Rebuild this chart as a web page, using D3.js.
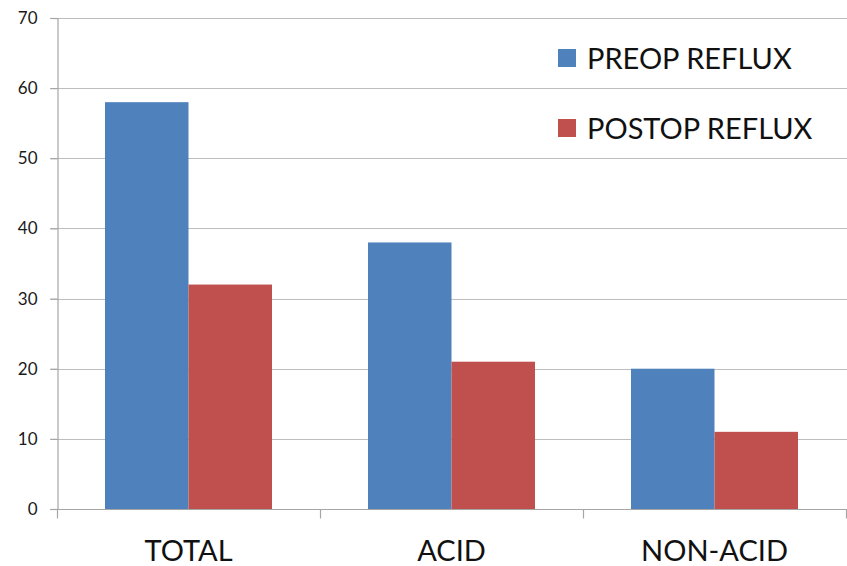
<!DOCTYPE html>
<html><head><meta charset="utf-8">
<script src="https://cdn.jsdelivr.net/npm/d3@7"></script>
<style>body{margin:0;background:#fff}svg{display:block}</style>
</head><body>
<svg id="c" width="847" height="566"></svg>
<script>
const categories = ["TOTAL", "ACID", "NON-ACID"];
const seriesNames = ["PREOP REFLUX", "POSTOP REFLUX"];
const preop = [58, 38, 20];
const postop = [32, 21, 11];
const yTicks = [0, 10, 20, 30, 40, 50, 60, 70];
const colors = ["#4F81BD", "#C0504D"];

const svg = d3.select("#c");
const m = {left: 57, right: 0, top: 18, bottom: 57};
const W = 847, H = 566;
const x0 = d3.scaleBand().domain(categories).range([m.left, W - 1]).paddingInner(0).paddingOuter(0);
const x1 = d3.scaleBand().domain(seriesNames).range([0, x0.bandwidth()]).paddingOuter(0.575).paddingInner(0);
const y = d3.scaleLinear().domain([0, 70]).range([H - m.bottom, m.top]);
const font = "Lato, 'Liberation Sans', sans-serif";

// gridlines
svg.append("g").selectAll("line").data(yTicks.slice(1)).join("line")
  .attr("x1", m.left - 7).attr("x2", W).attr("y1", d => Math.round(y(d)) + 0.5).attr("y2", d => Math.round(y(d)) + 0.5)
  .attr("stroke", "#bdbdbd").attr("stroke-width", 1.2);

// bars
const data = categories.map((c, i) => ({c, vals: [preop[i], postop[i]]}));
const g = svg.append("g");
data.forEach(d => {
  d.vals.forEach((v, j) => {
    g.append("rect")
      .attr("x", x0(d.c) + x1(seriesNames[j]))
      .attr("width", x1.bandwidth())
      .attr("y", y(v))
      .attr("height", y(0) - y(v))
      .attr("fill", colors[j]);
  });
});

// y axis
const yAxis = d3.axisLeft(y).tickValues(yTicks).tickSize(7).tickPadding(13);
const ya = svg.append("g").attr("transform", `translate(${m.left + 0.5},0)`).call(yAxis);
ya.select(".domain").attr("stroke", "#a6a6a6").attr("stroke-width", 1.2);
ya.selectAll(".tick line").attr("stroke", "#a6a6a6").attr("stroke-width", 1.2);
ya.selectAll("text").attr("font-family", font).attr("font-size", 17).attr("fill", "#1a1a1a");

// x axis
const xa = svg.append("g").attr("transform", `translate(0,${Math.round(y(0)) + 0.5})`);
xa.append("line").attr("x1", m.left - 7).attr("x2", W).attr("stroke", "#a6a6a6").attr("stroke-width", 1.2);
const bounds = categories.map(c => x0(c)).concat([W - 1]);
xa.selectAll("line.tk").data(bounds).join("line").attr("class", "tk")
  .attr("x1", d => d + 0.5).attr("x2", d => d + 0.5).attr("y1", 0).attr("y2", 9)
  .attr("stroke", "#a6a6a6").attr("stroke-width", 1.2);
xa.selectAll("text").data(categories).join("text")
  .attr("x", d => x0(d) + x0.bandwidth() / 2).attr("y", 51)
  .attr("text-anchor", "middle").attr("font-family", font).attr("font-size", 29).attr("fill", "#111")
  .text(d => d);

// legend
const lg = svg.append("g");
seriesNames.forEach((s, i) => {
  const yy = 49 + i * 70;
  lg.append("rect").attr("x", 558).attr("y", yy).attr("width", 18).attr("height", 18).attr("fill", colors[i]);
  lg.append("text").attr("x", 587).attr("y", yy + 19.5).attr("font-family", font).attr("font-size", 29)
    .attr("fill", "#111").text(s);
});
</script>
</body></html>
